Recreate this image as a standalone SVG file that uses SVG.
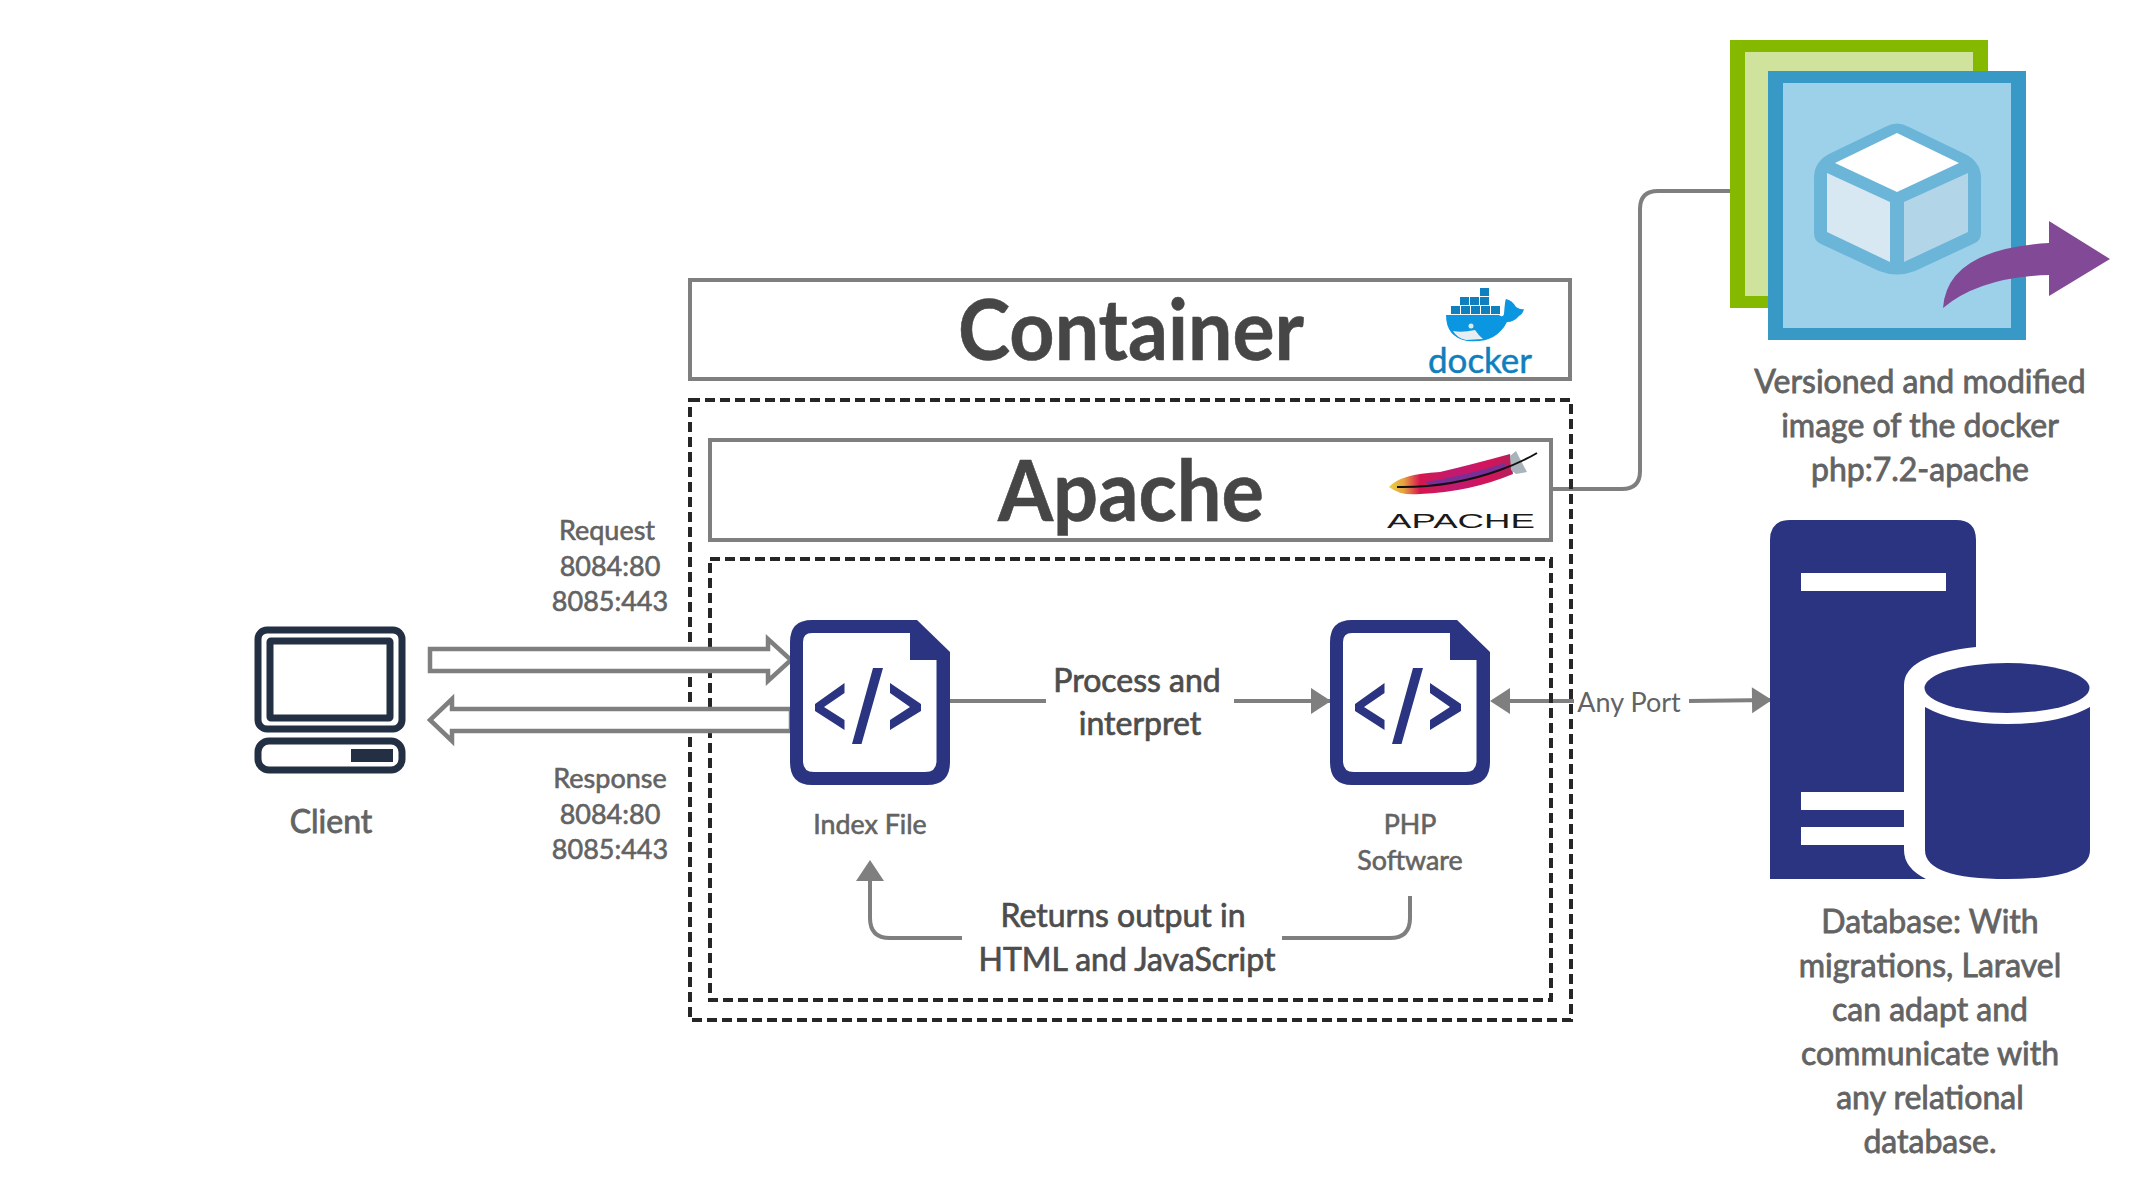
<svg xmlns="http://www.w3.org/2000/svg" xmlns:xlink="http://www.w3.org/1999/xlink" width="2150" height="1204" viewBox="0 0 2150 1204">
<defs>
<style>
text{font-family:Lato,"Liberation Sans",sans-serif;fill:#636363;text-anchor:middle}
.m{font-size:32px;stroke:#636363;stroke-width:.8}
.d{font-size:32px;fill:#4d4d4d;stroke:#4d4d4d;stroke-width:.7}
.r{font-size:27px;stroke:#636363;stroke-width:.6}
.s{font-size:26.800px;stroke:#636363;stroke-width:.6}
.h{font-size:84px;font-weight:700;fill:#464646;stroke:#464646;stroke-width:.6}
.box{fill:#fff;stroke:#7f7f7f;stroke-width:4}
.dash{fill:none;stroke:#262626;stroke-width:4;stroke-dasharray:10 5}
.line{fill:none;stroke:#7f7f7f;stroke-width:4}
.block{fill:#fff;stroke:#7f7f7f;stroke-width:4.500}
.navy{fill:#2b3481}
.pc{fill:none;stroke:#233044;stroke-width:7}
</style>
<marker id="tri" markerUnits="userSpaceOnUse" markerWidth="22" markerHeight="28" refX="20" refY="14" orient="auto"><path d="M1 1L21 14L1 27Z" fill="#7f7f7f"/></marker>
<linearGradient id="feather" x1="0" y1="0" x2="1" y2="0"><stop offset="0" stop-color="#e8d24a"/><stop offset=".12" stop-color="#e8a040"/><stop offset=".25" stop-color="#d5174f"/><stop offset=".55" stop-color="#c01a70"/><stop offset=".8" stop-color="#d4145a"/><stop offset="1" stop-color="#b2215a"/></linearGradient>
<g id="file">
<path class="navy" d="M22 0H127L160 32V142Q160 165 137 165H22Q0 165 0 142V22Q0 0 22 0Z"/>
<path fill="#fff" d="M22 13H120V40H146.500V141Q146.500 152 135 152H24Q13 152 13 141V22Q13 13 22 13Z"/>
<path class="navy" d="M54.500 63L25 84V91L54.500 110V100L34 87L54.500 73ZM100 63L131 84V91L100 110V100L120 87L100 73ZM83 48H93L71.500 124H62Z"/>
</g>
</defs>

<g id="connectors">
<path class="line" d="M1551 489H1622Q1640 489 1640 471V209Q1640 191 1658 191H1731"/>
<path class="line" d="M949 701H1046"/>
<path class="line" marker-end="url(#tri)" d="M1234 701H1330"/>
<path class="line" d="M1510 701H1574"/>
<path fill="#7f7f7f" d="M1490 701L1510 688V714Z"/>
<path class="line" marker-end="url(#tri)" d="M1689 701L1771 700"/>
<path class="line" d="M1410 896V918Q1410 938 1390 938H1282"/>
<path class="line" d="M962 938H890Q870 938 870 918V880"/>
<path fill="#7f7f7f" d="M870 860L884 881H856Z"/>
</g>

<g id="client">
<rect class="pc" x="258" y="630" width="144" height="99" rx="9"/>
<rect class="pc" x="270" y="641" width="120" height="77" rx="1"/>
<rect class="pc" x="258" y="741" width="144" height="29" rx="11"/>
<rect x="351" y="749" width="42" height="13" fill="#233044"/>
<text class="m" x="331" y="833">Client</text>
</g>

<g id="container">
<rect class="box" x="690" y="280" width="880" height="99"/>
<text class="h" x="1131" y="360" textLength="346" lengthAdjust="spacingAndGlyphs">Container</text>
<g id="docker-logo">
<path fill="#0a96e0" d="M1446 315H1499Q1503 318 1504 314Q1505 300 1506 299Q1512 300 1516 307Q1521 310 1524 309Q1523 314 1519 316Q1514 322 1507 322Q1496 344 1467 341Q1446 337 1446 315Z"/>
<path fill="#e6eef2" d="M1453 331Q1462 333 1475 330Q1479 336 1483 339L1466 340Q1457 338 1453 331Z"/>
<circle cx="1471" cy="326" r="2.500" fill="#dfe8ec"/>
<g fill="#0f7fbd"><rect x="1451" y="306" width="9" height="8"/><rect x="1461" y="306" width="9" height="8"/><rect x="1471" y="306" width="9" height="8"/><rect x="1481" y="306" width="9" height="8"/><rect x="1491" y="306" width="9" height="8"/><rect x="1460" y="297" width="9" height="8"/><rect x="1470" y="297" width="9" height="8"/><rect x="1480" y="297" width="9" height="8"/><rect x="1480" y="288" width="9" height="8"/></g>
<text x="1480" y="373" style="font-size:35px;fill:#0f7fbd;stroke:#0f7fbd;stroke-width:.5" textLength="104" lengthAdjust="spacingAndGlyphs">docker</text>
</g>
</g>

<g id="runtime-frame">
<rect class="dash" x="690" y="400" width="881" height="620"/>
</g>

<g id="apache">
<rect class="box" x="710" y="440" width="841" height="100"/>
<text class="h" x="1131" y="521" textLength="266" lengthAdjust="spacingAndGlyphs">Apache</text>
<g id="apache-logo">
<path fill="url(#feather)" d="M1389 487Q1400 474 1440 472Q1470 465 1510 454L1513 474Q1470 492 1420 494Q1400 496 1389 487Z"/>
<path fill="#7a2f96" d="M1425 482Q1465 476 1505 463L1506 468Q1465 482 1430 486Z"/>
<path fill="#a9b3ba" d="M1510 456L1516 451L1520 459L1527 472L1516 474L1511 470Z"/>
<path fill="none" stroke="#111" stroke-width="2" d="M1397 487Q1450 488 1500 470Q1522 462 1537 453"/>
<text x="1461" y="528" style="font-size:20px;fill:#1a1a1a;font-family:'Liberation Sans',sans-serif" textLength="148" lengthAdjust="spacingAndGlyphs">APACHE</text>
</g>
</g>

<g id="code-frame">
<rect class="dash" x="710" y="559" width="841" height="441"/>
</g>

<g id="request-arrow">
<path class="block" d="M430 649H768V639L791 660L768 681V671H430Z"/>
<text class="r" x="607" y="540">Request</text>
<text class="r" x="610" y="576">8084:80</text>
<text class="r" x="610" y="611">8085:443</text>
</g>
<g id="response-arrow">
<path class="block" d="M791 709H452V699L430 720L452 741V731H791Z"/>
<text class="r" x="610" y="788">Response</text>
<text class="r" x="610" y="824">8084:80</text>
<text class="r" x="610" y="859">8085:443</text>
</g>

<g id="index-file">
<use xlink:href="#file" href="#file" x="790" y="620"/>
<text class="s" x="870" y="834">Index File</text>
</g>
<g id="php-software">
<use xlink:href="#file" href="#file" x="1330" y="620"/>
<text class="s" x="1410" y="834">PHP</text>
<text class="s" x="1410" y="870">Software</text>
</g>

<g id="labels">
<text class="d" x="1137" y="692">Process and</text>
<text class="d" x="1140" y="735">interpret</text>
<text class="d" x="1123" y="927">Returns output in</text>
<text class="d" x="1127" y="971">HTML and JavaScript</text>
<text x="1629" y="712" style="font-size:27px">Any Port</text>
</g>

<g id="image">
<rect x="1730" y="40" width="258" height="268" fill="#84b900"/>
<rect x="1745" y="52" width="228" height="244" fill="#d0e39c"/>
<rect x="1768" y="71" width="258" height="269" fill="#3899c7"/>
<rect x="1783" y="83" width="228" height="245" fill="#9dd1e9"/>
<path fill="#6bb5d8" d="M1885 127Q1897 120 1909 127L1963 153Q1981 161 1981 178V233Q1981 241 1973 244L1915 271Q1897 278 1879 271L1821 244Q1814 241 1814 233V178Q1814 161 1831 153Z"/>
<path fill="#fff" d="M1897 133L1959 163L1897 192L1835 163Z"/>
<path fill="#d8e8f3" d="M1827 173L1890 202V262L1827 232Z"/>
<path fill="#b2d5e8" d="M1968 173L1904 202V262L1968 232Z"/>
<path fill="#824a96" d="M1943 308Q1947 249 2049 243V221L2110 259L2049 296V275Q1980 277 1943 308Z"/>
<text class="m" x="1920" y="393">Versioned and modified</text>
<text class="m" x="1920" y="437">image of the docker</text>
<text class="m" x="1920" y="481">php:7.2-apache</text>
</g>

<g id="database">
<path class="navy" d="M1790 520H1956Q1976 520 1976 540V647Q1904 655 1904 685V850Q1904 868 1926 879H1770V540Q1770 520 1790 520Z"/>
<rect x="1801" y="573" width="145" height="18" fill="#fff"/>
<rect x="1801" y="792" width="103" height="18" fill="#fff"/>
<rect x="1801" y="827" width="103" height="18" fill="#fff"/>
<ellipse class="navy" cx="2007" cy="688" rx="82.500" ry="25"/>
<path class="navy" d="M1925 707Q1955 724 2007 724Q2060 724 2090 707V850Q2090 879 2007 879Q1925 879 1925 850Z"/>
<text class="m" x="1930" y="933">Database: With</text>
<text class="m" x="1930" y="977">migrations, Laravel</text>
<text class="m" x="1930" y="1021">can adapt and</text>
<text class="m" x="1930" y="1065">communicate with</text>
<text class="m" x="1930" y="1109">any relational</text>
<text class="m" x="1930" y="1153">database.</text>
</g>
</svg>
